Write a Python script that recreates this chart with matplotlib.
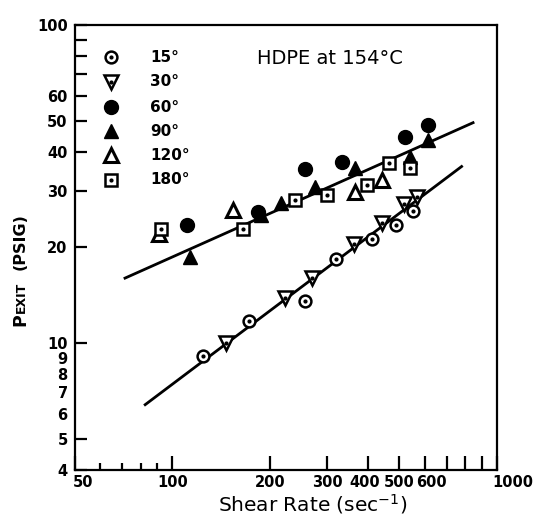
import matplotlib
matplotlib.use("Agg")
import matplotlib.pyplot as plt
from matplotlib.ticker import FixedLocator, FixedFormatter, NullFormatter
from matplotlib.transforms import ScaledTranslation

# ---- data ----
rate_15 = [124, 172, 256, 319, 412, 489, 551]
p_15 = [9.1, 11.7, 13.6, 18.4, 21.2, 23.5, 26.1]
rate_30 = [146, 222, 269, 363, 443, 519, 566]
p_30 = [10.0, 13.9, 16.0, 20.5, 23.8, 27.3, 28.8]
rate_60 = [111, 184, 256, 333, 521, 615]
p_60 = [23.5, 25.9, 35.2, 37.2, 44.3, 48.5]
rate_90 = [113, 188, 217, 275, 366, 540, 615]
p_90 = [18.7, 25.3, 27.5, 31.0, 35.4, 38.5, 43.5]
rate_120 = [91, 154, 366, 442]
p_120 = [22.0, 26.2, 29.9, 32.6]
rate_180 = [92, 165, 239, 299, 397, 466, 540]
p_180 = [22.8, 22.9, 28.2, 29.2, 31.4, 36.9, 35.4]

upper_fit_x = [71.5, 845]
upper_fit_y = [16.0, 49.3]
lower_fit_x = [82.5, 779]
lower_fit_y = [6.4, 35.9]

series_labels = ["15°", "30°", "60°", "90°", "120°", "180°"]

xticks_major = [50, 100, 200, 300, 400, 500, 600, 700, 800, 900, 1000]
xtick_labels = ["50", "100", "200", "300", "400", "500", "600", "", "", "", "1000"]
xticks_minor = [60, 70, 80, 90]
yticks_major = [4, 5, 10, 20, 30, 40, 50, 60, 70, 80, 90, 100]
ytick_labels = ["4", "5", "10", "20", "30", "40", "50", "60", "", "", "", "100"]
yticks_minor = [6, 7, 8, 9]
ytick_minor_labels = ["6", "7", "8", "9"]

# ---- figure ----
W, H = 536, 518
fig = plt.figure(figsize=(W / 100, H / 100), dpi=100)
ax_l, ax_r, ax_t, ax_b = 74.6, 496.8, 25.0, 469.6
ax = fig.add_axes([ax_l / W, 1 - ax_b / H, (ax_r - ax_l) / W, (ax_b - ax_t) / H])
ax.set_xscale("log")
ax.set_yscale("log")
ax.set_xlim(50, 1000)
ax.set_ylim(4, 100)

lw_m = 1.8
styles = {
    "15": dict(marker="o", mfc="white", mec="black", ms=8.5, mew=lw_m),
    "30": dict(marker="v", mfc="white", mec="black", ms=9.5, mew=lw_m),
    "60": dict(marker="o", mfc="black", mec="black", ms=10, mew=1),
    "90": dict(marker="^", mfc="black", mec="black", ms=10, mew=1),
    "120": dict(marker="^", mfc="white", mec="black", ms=9.5, mew=2.2),
    "180": dict(marker="s", mfc="white", mec="black", ms=8.5, mew=lw_m),
}
dotted = {"15", "30", "180"}

data = [("15", rate_15, p_15), ("30", rate_30, p_30), ("60", rate_60, p_60),
        ("90", rate_90, p_90), ("120", rate_120, p_120), ("180", rate_180, p_180)]

ax.plot(upper_fit_x, upper_fit_y, color="black", lw=2, zorder=2)
ax.plot(lower_fit_x, lower_fit_y, color="black", lw=2, zorder=2)

for key, xs, ys in data:
    ax.plot(xs, ys, ls="none", zorder=3, **styles[key])
    if key in dotted:
        ax.plot(xs, ys, ls="none", marker="o", ms=2, mfc="black", mec="black", zorder=4)

# legend (manual)
leg_y = [57, 82, 107, 131, 155, 180]
for (key, _, _), lab, yy in zip(data, series_labels, leg_y):
    fy = (ax_b - yy) / (ax_b - ax_t)
    fx = (111 - ax_l) / (ax_r - ax_l)
    ax.plot([fx], [fy], transform=ax.transAxes, ls="none", clip_on=False, zorder=3, **styles[key])
    if key in dotted:
        ax.plot([fx], [fy], transform=ax.transAxes, ls="none", marker="o", ms=2,
                mfc="black", mec="black", zorder=4)
    ax.text((150 - ax_l) / (ax_r - ax_l), fy, lab, transform=ax.transAxes,
            ha="left", va="center", fontsize=11, fontweight="bold")

ax.text((330 - ax_l) / (ax_r - ax_l), (ax_b - 58) / (ax_b - ax_t), "HDPE at 154°C",
        transform=ax.transAxes, ha="center", va="center", fontsize=14)

# spines / ticks
for s in ax.spines.values():
    s.set_linewidth(1.6)
ax.xaxis.set_major_locator(FixedLocator(xticks_major))
ax.xaxis.set_major_formatter(FixedFormatter(xtick_labels))
ax.xaxis.set_minor_locator(FixedLocator(xticks_minor))
ax.xaxis.set_minor_formatter(NullFormatter())
ax.yaxis.set_major_locator(FixedLocator(yticks_major))
ax.yaxis.set_major_formatter(FixedFormatter(ytick_labels))
ax.yaxis.set_minor_locator(FixedLocator(yticks_minor))
ax.yaxis.set_minor_formatter(FixedFormatter(ytick_minor_labels))
ax.tick_params(axis="x", which="major", direction="in", length=10, width=1.6, pad=4,
               labelsize=10.5)
ax.tick_params(axis="x", which="minor", direction="in", length=5, width=1.6)
ax.tick_params(axis="y", which="major", direction="in", length=8.5, width=1.6, pad=5,
               labelsize=10.5)
ax.tick_params(axis="y", which="minor", direction="in", length=0, pad=5, labelsize=10.5)

fig.canvas.draw()
for lab in ax.get_xticklabels() + ax.get_yticklabels() + ax.get_yticklabels(minor=True):
    lab.set_fontweight("bold")
# hand-lettered label placement of the original: some x labels sit off their ticks
label_shift_px = {"50": 8, "400": -3, "600": 7, "1000": 16}
for tick in ax.xaxis.get_major_ticks():
    t = tick.label1
    if t.get_text() in label_shift_px:
        dx = label_shift_px[t.get_text()] / 100
        t.set_transform(t.get_transform() + ScaledTranslation(dx, 0, fig.dpi_scale_trans))

fig.text(313 / W, 1 - 511 / H, "Shear Rate (sec$^{-1}$)", ha="center", va="baseline",
         fontsize=14.5)

# y label in small caps style: P + EXIT + (PSIG)
r = fig.canvas.get_renderer()
bx = 25 / W
y0 = 1 - 326 / H
t1 = fig.text(bx, y0, "P", rotation=90, rotation_mode="anchor", ha="left", va="baseline",
              fontsize=12.5, fontweight="bold")
e1 = t1.get_window_extent(r)
t2 = fig.text(bx, e1.y1 / H + 0.5 / H, "EXIT", rotation=90, rotation_mode="anchor",
              ha="left", va="baseline", fontsize=9, fontweight="bold")
e2 = t2.get_window_extent(r)
fig.text(bx, e2.y1 / H + 12 / H, "(PSIG)", rotation=90, rotation_mode="anchor",
         ha="left", va="baseline", fontsize=11.5, fontweight="bold")

fig.savefig("out.png", dpi=100)
